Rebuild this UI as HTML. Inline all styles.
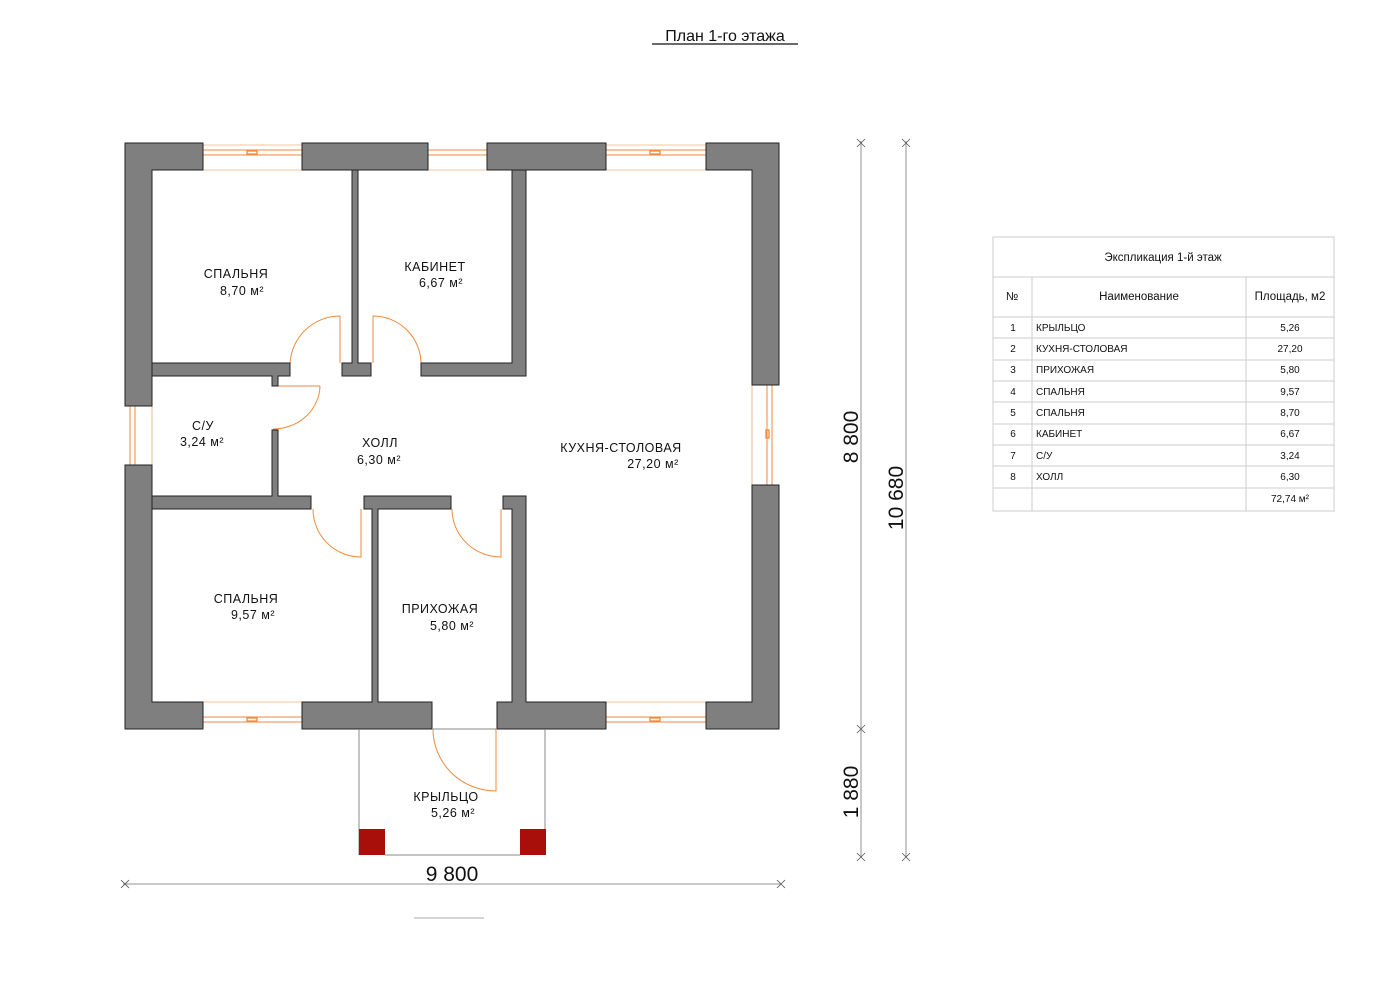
<!DOCTYPE html>
<html><head><meta charset="utf-8"><style>
body{margin:0;background:#fff;width:1400px;height:989px;overflow:hidden}
svg text{font-family:"Liberation Sans Narrow","Liberation Sans",sans-serif;fill:#111}
</style></head><body>
<svg width="1400" height="989" viewBox="0 0 1400 989" xmlns="http://www.w3.org/2000/svg">
<text x="725" y="41" font-size="16" text-anchor="middle">План 1-го этажа</text>
<line x1="652" y1="44" x2="798" y2="44" stroke="#111" stroke-width="1.2"/>

<!-- windows -->
<g stroke="#f08a3c" stroke-width="1" fill="none">
<line x1="203" y1="145" x2="302" y2="145" stroke-width="0.6"/><line x1="203" y1="150" x2="302" y2="150"/><line x1="203" y1="155" x2="302" y2="155"/><line x1="203" y1="170" x2="302" y2="170" stroke-width="0.6"/>
<line x1="428" y1="150" x2="487" y2="150"/><line x1="428" y1="155" x2="487" y2="155"/><line x1="428" y1="170" x2="487" y2="170" stroke-width="0.6"/>
<line x1="606" y1="145" x2="706" y2="145" stroke-width="0.6"/><line x1="606" y1="150" x2="706" y2="150"/><line x1="606" y1="155" x2="706" y2="155"/><line x1="606" y1="170" x2="706" y2="170" stroke-width="0.6"/>
<line x1="203" y1="702" x2="302" y2="702" stroke-width="0.6"/><line x1="203" y1="717" x2="302" y2="717"/><line x1="203" y1="722" x2="302" y2="722"/>
<line x1="606" y1="702" x2="706" y2="702" stroke-width="0.6"/><line x1="606" y1="717" x2="706" y2="717"/><line x1="606" y1="722" x2="706" y2="722"/>
<line x1="130" y1="406" x2="130" y2="465"/><line x1="135" y1="406" x2="135" y2="465"/><line x1="152" y1="406" x2="152" y2="465" stroke-width="0.6"/>
<line x1="752" y1="385" x2="752" y2="485" stroke-width="0.6"/><line x1="767" y1="385" x2="767" y2="485"/><line x1="772" y1="385" x2="772" y2="485"/>
<rect x="247" y="151" width="10" height="3" stroke-width="1.3"/><rect x="650" y="151" width="10" height="3" stroke-width="1.3"/>
<rect x="247" y="718" width="10" height="3" stroke-width="1.3"/><rect x="650" y="718" width="10" height="3" stroke-width="1.3"/>
<rect x="766" y="430" width="3" height="8" stroke-width="1.3"/>
<!-- doors -->
<path d="M290 365 A50 50 0 0 1 340 316 L340 363"/>
<path d="M421 365 A48 48 0 0 0 373 316 L373 363"/>
<path d="M320 386 L273 386 M320 386 A47 44 0 0 1 273 429"/>
<path d="M313 509 A48 48 0 0 0 361 557 L361 509"/>
<path d="M452 509 A49 48 0 0 0 501 557 L501 509"/>
<path d="M433 729 A63 62 0 0 0 496 791 L496 729"/>
</g>

<!-- walls -->
<g fill="#7f7f7f" stroke="#222" stroke-width="1">
<path d="M125 143 H203 V170 H152 V406 H125 Z"/>
<rect x="302" y="143" width="126" height="27"/>
<rect x="487" y="143" width="119" height="27"/>
<path d="M706 143 H779 V385 H752 V170 H706 Z"/>
<path d="M125 465 H152 V702 H203 V729 H125 Z"/>
<path d="M752 485 H779 V729 H706 V702 H752 Z"/>
<path d="M302 702 H372 V509 H364 V496 H451 V509 H378 V702 H432 V729 H302 Z"/>
<path d="M497 702 H512 V509 H503 V496 H526 V702 H606 V729 H497 Z"/>
<path d="M352 170 H358 V363 H371 V376 H342 V363 H352 Z"/>
<path d="M152 363 H290 V376 H278 V386 H272 V376 H152 Z"/>
<path d="M512 170 H526 V376 H421 V363 H512 Z"/>
<path d="M272 430 H278 V496 H311 V509 H152 V496 H272 Z"/>
</g>

<!-- porch -->
<g stroke="#888" stroke-width="1" fill="none">
<line x1="359" y1="729" x2="359" y2="855"/><line x1="545" y1="729" x2="545" y2="855"/>
<line x1="385" y1="855" x2="520" y2="855"/><line x1="432" y1="729" x2="497" y2="729"/>
</g>
<rect x="359" y="829" width="26" height="26" fill="#a80f0a"/>
<rect x="520" y="829" width="26" height="26" fill="#a80f0a"/>

<!-- labels -->
<g font-size="12.5" text-anchor="middle" letter-spacing="0.5">
<text x="236" y="278">СПАЛЬНЯ</text><text x="242" y="295">8,70 м²</text>
<text x="435" y="271">КАБИНЕТ</text><text x="441" y="287">6,67 м²</text>
<text x="203" y="430">С/У</text><text x="202" y="446">3,24 м²</text>
<text x="380" y="447">ХОЛЛ</text><text x="379" y="464">6,30 м²</text>
<text x="621" y="452">КУХНЯ-СТОЛОВАЯ</text><text x="653" y="468">27,20 м²</text>
<text x="246" y="603">СПАЛЬНЯ</text><text x="253" y="619">9,57 м²</text>
<text x="440" y="613">ПРИХОЖАЯ</text><text x="452" y="630">5,80 м²</text>
<text x="446" y="801">КРЫЛЬЦО</text><text x="453" y="817">5,26 м²</text>
</g>

<!-- dimensions -->
<g stroke="#aaa" stroke-width="1.3">
<line x1="123" y1="884" x2="781" y2="884"/>
<line x1="861" y1="141" x2="861" y2="857"/>
<line x1="906" y1="141" x2="906" y2="857"/>
<line x1="414" y1="918" x2="484" y2="918" stroke="#bbb"/>
</g>
<g stroke="#555" stroke-width="0.8">
<path d="M121 880 L129 888 M121 888 L129 880"/><path d="M777 880 L785 888 M777 888 L785 880"/>
<path d="M857 139 L865 147 M857 147 L865 139"/><path d="M857 725 L865 733 M857 733 L865 725"/><path d="M857 853 L865 861 M857 861 L865 853"/>
<path d="M902 139 L910 147 M902 147 L910 139"/><path d="M902 853 L910 861 M902 861 L910 853"/>
</g>
<text x="452" y="881" font-size="21" text-anchor="middle">9 800</text>
<text transform="translate(858,437) rotate(-90)" font-size="21" text-anchor="middle">8 800</text>
<text transform="translate(858,792) rotate(-90)" font-size="21" text-anchor="middle">1 880</text>
<text transform="translate(903,498) rotate(-90)" font-size="21" text-anchor="middle">10 680</text>

<!-- table -->
<g stroke="#ccc" stroke-width="1" fill="none">
<rect x="993" y="237" width="341" height="274"/>
<line x1="993" y1="277" x2="1334" y2="277"/>
<line x1="993" y1="317" x2="1334" y2="317"/>
<line x1="993" y1="338" x2="1334" y2="338"/><line x1="993" y1="360" x2="1334" y2="360"/>
<line x1="993" y1="381" x2="1334" y2="381"/><line x1="993" y1="402" x2="1334" y2="402"/>
<line x1="993" y1="424" x2="1334" y2="424"/><line x1="993" y1="445" x2="1334" y2="445"/>
<line x1="993" y1="466" x2="1334" y2="466"/><line x1="993" y1="488" x2="1334" y2="488"/>
<line x1="1032" y1="277" x2="1032" y2="511"/><line x1="1246" y1="277" x2="1246" y2="511"/>
</g>
<g font-size="11.5">
<text x="1163" y="261" text-anchor="middle">Экспликация 1-й этаж</text>
<text x="1012" y="300" text-anchor="middle">№</text>
<text x="1139" y="300" text-anchor="middle">Наименование</text>
<text x="1290" y="300" text-anchor="middle">Площадь, м2</text>
</g>
<g font-size="10">
<text x="1013" y="331" text-anchor="middle">1</text><text x="1036" y="331">КРЫЛЬЦО</text><text x="1290" y="331" text-anchor="middle">5,26</text>
<text x="1013" y="352" text-anchor="middle">2</text><text x="1036" y="352">КУХНЯ-СТОЛОВАЯ</text><text x="1290" y="352" text-anchor="middle">27,20</text>
<text x="1013" y="373" text-anchor="middle">3</text><text x="1036" y="373">ПРИХОЖАЯ</text><text x="1290" y="373" text-anchor="middle">5,80</text>
<text x="1013" y="395" text-anchor="middle">4</text><text x="1036" y="395">СПАЛЬНЯ</text><text x="1290" y="395" text-anchor="middle">9,57</text>
<text x="1013" y="416" text-anchor="middle">5</text><text x="1036" y="416">СПАЛЬНЯ</text><text x="1290" y="416" text-anchor="middle">8,70</text>
<text x="1013" y="437" text-anchor="middle">6</text><text x="1036" y="437">КАБИНЕТ</text><text x="1290" y="437" text-anchor="middle">6,67</text>
<text x="1013" y="459" text-anchor="middle">7</text><text x="1036" y="459">С/У</text><text x="1290" y="459" text-anchor="middle">3,24</text>
<text x="1013" y="480" text-anchor="middle">8</text><text x="1036" y="480">ХОЛЛ</text><text x="1290" y="480" text-anchor="middle">6,30</text>
<text x="1290" y="502" text-anchor="middle">72,74 м²</text>
</g>
</svg>
</body></html>
